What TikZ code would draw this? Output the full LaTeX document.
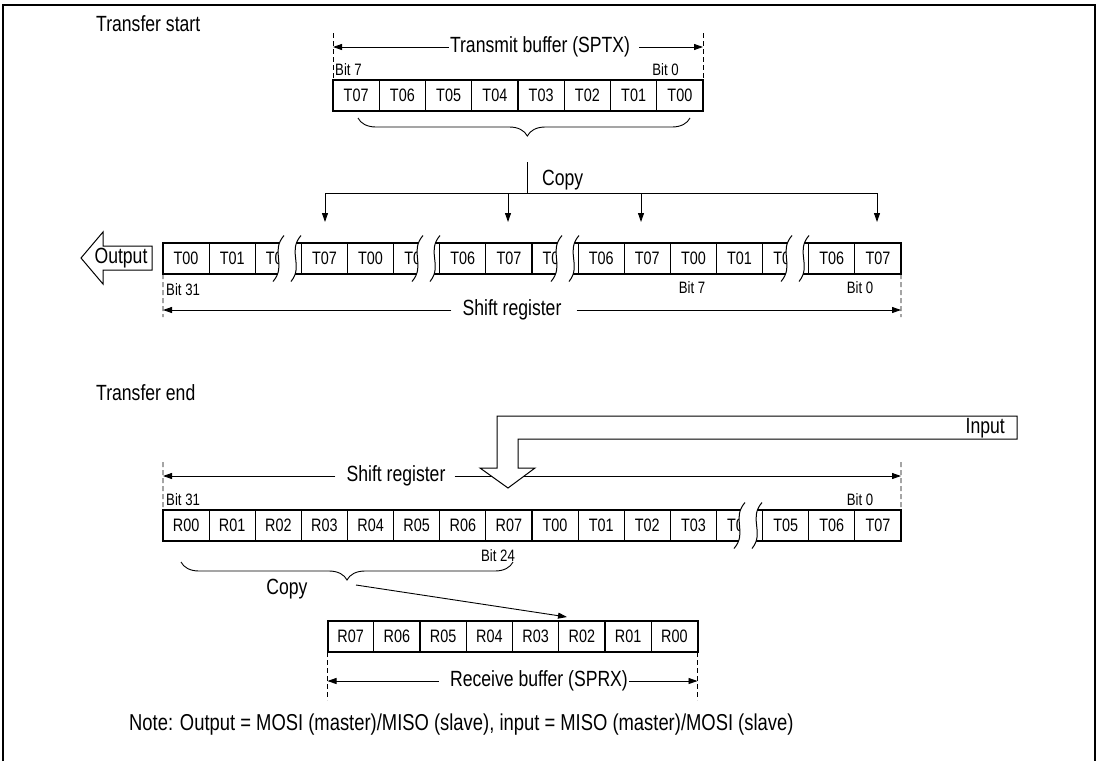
\documentclass[tikz,border=0pt]{standalone}
\usepackage{fontspec}
\setmainfont{Liberation Sans}[FakeStretch=0.8]
\usetikzlibrary{arrows.meta, positioning, decorations.pathreplacing}

\begin{document}
\begin{tikzpicture}[
  x=1pt, y=-1pt,
  cell/.style={draw, line width=1.1pt, minimum width=46.25pt,
    minimum height=31pt, inner sep=0pt, outer sep=0pt,
    font=\fontsize{18}{20}\selectfont},
  regbox/.style={line width=2pt},
  lbl/.style={inner sep=1pt, font=\fontsize{22}{24}\selectfont},
  bitlbl/.style={inner sep=0pt, font=\fontsize{16.5}{18}\selectfont},
  ar/.style={-{Triangle[length=9pt,width=6pt]}, line width=0.9pt},
  dashln/.style={dash pattern=on 5pt off 3pt, line width=0.8pt},
  brc/.style={decorate, decoration={brace, mirror, amplitude=18pt,
    aspect=#1}, line width=0.9pt},
  fat/.style={draw, fill=white, line width=1pt}
]
  \useasboundingbox (0,0) rectangle (1100,761);
  % frame
  \draw[line width=2pt] (3,761) -- (3,5) -- (1095,5) -- (1095,761);

  % ---------------- Transfer start
  \node[lbl, anchor=west] (tstart) at (95,24) {Transfer start};
  \foreach \t [count=\i] in {T07,T06,T05,T04,T03,T02,T01,T00}
    \node[cell] (tx\i) at ({333+46.25*(\i-0.5)},95.5) {\t};
  \draw[regbox] (tx1.north west) rectangle (tx8.south east);
  \coordinate (txL) at (333,33);
  \coordinate (txR) at (703,33);
  \draw[dashln] (txL) -- (tx1.north west);
  \draw[dashln] (txR) -- (tx8.north east);
  \node[lbl] (txname) at (540,47) {Transmit buffer (SPTX)};
  \draw[ar] (txname.west) -- (txL |- txname);
  \draw[ar] ([xshift=8pt]txname.east) -- (txR |- txname);
  \node[bitlbl, anchor=west] (txb7) at (335,70) {Bit 7};
  \node[bitlbl, anchor=east] (txb0) at (679,70) {Bit 0};
  \coordinate (tbrL) at (358,118);
  \coordinate (tbrR) at (690,118);
  \draw[brc=0.51] (tbrL) -- (tbrR);

  % Copy bus
  \coordinate (cpy) at (527,162);
  \coordinate (bus) at (527,193);
  \draw[line width=0.9pt] (cpy) -- (bus);
  \node[lbl, anchor=west] (cpylbl) at (541,180) {Copy};
  \coordinate (b1) at (325,193);
  \coordinate (b2) at (508,193);
  \coordinate (b3) at (641,193);
  \coordinate (b4) at (877,193);
  \draw[line width=0.9pt] (b1) -- (b4);

  % Shift register (start)
  \foreach \t [count=\i] in {T00,T01,T02,T07,T00,T01,T06,T07,
                             T05,T06,T07,T00,T01,T02,T06,T07}
    \node[cell] (sa\i) at ({163+46.125*(\i-0.5)},258.5) {\t};
  \draw[regbox] (sa1.north west) rectangle (sa16.south east);
  \foreach \b/\c in {b1/sa4, b2/sa8, b3/sa11, b4/sa16}
    \draw[ar, shorten >=21pt] (\b) -- (\b |- \c.north);

  % Shift register (end)
  \foreach \t [count=\i] in {R00,R01,R02,R03,R04,R05,R06,R07,
                             T00,T01,T02,T03,T04,T05,T06,T07}
    \node[cell] (sb\i) at ({163+46.125*(\i-0.5)},525.5) {\t};
  \draw[regbox] (sb1.north west) rectangle (sb16.south east);

  % breaks
  \foreach \bx/\by in {287/258.5, 426/258.5, 565/258.5, 795/258.5, 748/525.5}{
    \begin{scope}[shift={(\bx,\by)}]
      \fill[white] (-3,-23) .. controls (-17,-7) and (0,7) .. (-14,23)
        -- (4,23) .. controls (17,7) and (0,-7) .. (14,-23) -- cycle;
      \draw[line width=1pt] (-3,-23) .. controls (-17,-7) and (0,7) .. (-14,23);
      \draw[line width=1pt] (14,-23) .. controls (0,-7) and (17,7) .. (4,23);
    \end{scope}
  }

  % Output
  \draw[fat] (152,246) -- (103,246) -- (103,232) -- (81,258) -- (103,284)
    -- (103,270) -- (152,270) -- cycle;
  \node[lbl] (outlbl) at (121,258) {Output};

  \node[bitlbl, anchor=west] (sab31) at (166,290) {Bit 31};
  \node[bitlbl] (sab7) at (692,288) {Bit 7};
  \node[bitlbl] (sab0) at (860,288) {Bit 0};
  \coordinate (saL) at (163,317);
  \coordinate (saR) at (901,317);
  \draw[dashln] (sa1.south west) -- (saL);
  \draw[dashln] (sa16.south east) -- (saR);
  \node[lbl] (saname) at (512,310) {Shift register};
  \draw[ar] ([xshift=-10pt]saname.west) -- (saL |- saname);
  \draw[ar] ([xshift=14pt]saname.east) -- (saR |- saname);

  % ---------------- Transfer end
  \node[lbl, anchor=west] (tend) at (95,393) {Transfer end};
  \coordinate (sbL) at (163,462);
  \coordinate (sbR) at (901,462);
  \draw[dashln] (sbL) -- (sb1.north west);
  \draw[dashln] (sbR) -- (sb16.north east);
  \node[lbl] (sbname) at (396,476) {Shift register};
  \draw[ar] ([xshift=-10pt]sbname.west) -- (sbL |- sbname);
  \draw[ar] ([xshift=8pt]sbname.east) -- (sbR |- sbname);
  \node[bitlbl, anchor=west] (sbb31) at (166,500) {Bit 31};
  \node[bitlbl] (sbb0) at (860,500) {Bit 0};
  \node[bitlbl] (sbb24) at (498,556) {Bit 24};

  % Input
  \draw[fat] (1017,416) -- (497,416) -- (497,468) -- (480,468) -- (508,488)
    -- (535,468) -- (518,468) -- (518,439) -- (1017,439) -- cycle;
  \node[lbl, anchor=east] (inlbl) at (1006,428) {Input};

  % Copy to receive buffer
  \coordinate (bbrL) at (181,562);
  \coordinate (bbrR) at (513,562);
  \draw[brc=0.5] (bbrL) -- (bbrR);
  \node[lbl] (cpy2lbl) at (287,589) {Copy};
  \coordinate (cpy2) at (356,585);
  \coordinate (rxin) at (567,617);
  \draw[ar] (cpy2) -- (rxin);

  \foreach \t [count=\i] in {R07,R06,R05,R04,R03,R02,R01,R00}
    \node[cell] (rx\i) at ({327.5+46.25*(\i-0.5)},636.5) {\t};
  \draw[regbox] (rx1.north west) rectangle (rx8.south east);
  \coordinate (rxL) at (327.5,700);
  \coordinate (rxR) at (697.5,700);
  \draw[dashln] (rx1.south west) -- (rxL);
  \draw[dashln] (rx8.south east) -- (rxR);
  \node[lbl] (rxname) at (539,681) {Receive buffer (SPRX)};
  \draw[ar] ([xshift=-10pt]rxname.west) -- (rxL |- rxname);
  \draw[ar] (rxname.east) -- (rxR |- rxname);

  \node[lbl, anchor=west, font=\fontsize{23}{25}\selectfont] (note) at (128,725)
    {Note: Output = MOSI (master)/MISO (slave), input = MISO (master)/MOSI (slave)};
\end{tikzpicture}
\end{document}
